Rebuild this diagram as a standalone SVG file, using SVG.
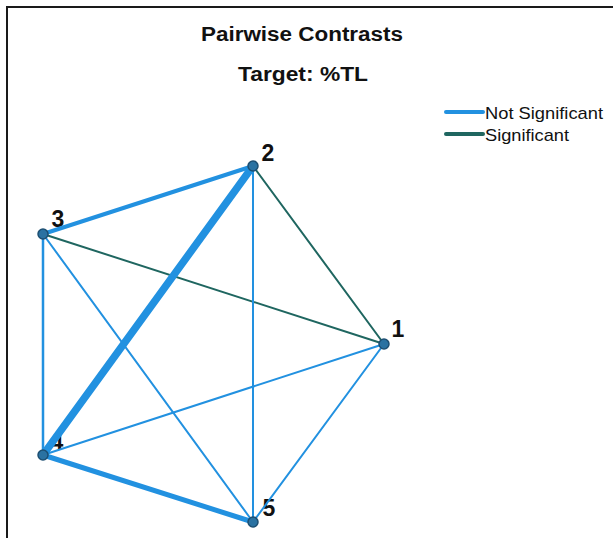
<svg xmlns="http://www.w3.org/2000/svg" width="613" height="538" viewBox="0 0 613 538">
  <style>
    .title { font-family: "Liberation Sans", Arial, sans-serif; font-weight: bold; font-size: 20px; fill: #111; }
    .legend { font-family: "Liberation Sans", Arial, sans-serif; font-size: 17px; fill: #111; }
    .label { font-family: "Liberation Sans", Arial, sans-serif; font-weight: bold; font-size: 23px; fill: #111; }
    .ns { stroke: #2291e0; stroke-linecap: round; fill: none; }
    .sig { stroke: #1f6660; stroke-linecap: round; fill: none; }
    .node { fill: #2a72a2; stroke: #1d4f72; stroke-width: 1.5; }
  </style>

  <rect x="0" y="0" width="613" height="538" fill="#ffffff"/>
  <!-- frame: only the left and top edges fall inside the canvas -->
  <rect x="7" y="7" width="640" height="560" fill="none" stroke="#1a1a1a" stroke-width="2"/>

  <text class="title" x="201" y="41" textLength="202" lengthAdjust="spacingAndGlyphs">Pairwise Contrasts</text>
  <text class="title" x="238" y="81" textLength="130" lengthAdjust="spacingAndGlyphs">Target: %TL</text>

  <g id="legend">
    <line class="ns" x1="446" y1="112" x2="483" y2="112" stroke-width="4"/>
    <text class="legend" x="485" y="119" textLength="118" lengthAdjust="spacingAndGlyphs">Not Significant</text>
    <line class="sig" x1="446" y1="134" x2="483" y2="134" stroke-width="4"/>
    <text class="legend" x="485" y="141" textLength="84" lengthAdjust="spacingAndGlyphs">Significant</text>
  </g>

  <!-- node labels sit under the edges, so the "4" is mostly covered -->
  <g id="labels">
    <text class="label" x="398" y="337" text-anchor="middle">1</text>
    <text class="label" x="268" y="161" text-anchor="middle">2</text>
    <text class="label" x="58" y="227" text-anchor="middle">3</text>
    <text class="label" x="57" y="450" text-anchor="middle">4</text>
    <text class="label" x="269" y="516" text-anchor="middle">5</text>
  </g>

  <g id="edges">
    <line class="ns" x1="43" y1="234" x2="253" y2="166" stroke-width="4"/>
    <line class="ns" x1="43" y1="234" x2="43" y2="455" stroke-width="2.5"/>
    <line class="ns" x1="43" y1="234" x2="253" y2="522" stroke-width="2"/>
    <line class="sig" x1="43" y1="234" x2="384" y2="344" stroke-width="2"/>
    <line class="sig" x1="253" y1="166" x2="384" y2="344" stroke-width="2"/>
    <line class="ns" x1="253" y1="166" x2="253" y2="522" stroke-width="2"/>
    <line class="ns" x1="43" y1="455" x2="384" y2="344" stroke-width="2"/>
    <line class="ns" x1="384" y1="344" x2="253" y2="522" stroke-width="2"/>
    <line class="ns" x1="43" y1="455" x2="253" y2="522" stroke-width="5"/>
    <line class="ns" x1="43" y1="455" x2="253" y2="166" stroke-width="7.5"/>
  </g>

  <g id="node-1"><circle class="node" cx="384" cy="344" r="5"/></g>
  <g id="node-2"><circle class="node" cx="253" cy="166" r="5"/></g>
  <g id="node-3"><circle class="node" cx="43" cy="234" r="5"/></g>
  <g id="node-4"><circle class="node" cx="43" cy="455" r="5"/></g>
  <g id="node-5"><circle class="node" cx="253" cy="522" r="5"/></g>
</svg>
